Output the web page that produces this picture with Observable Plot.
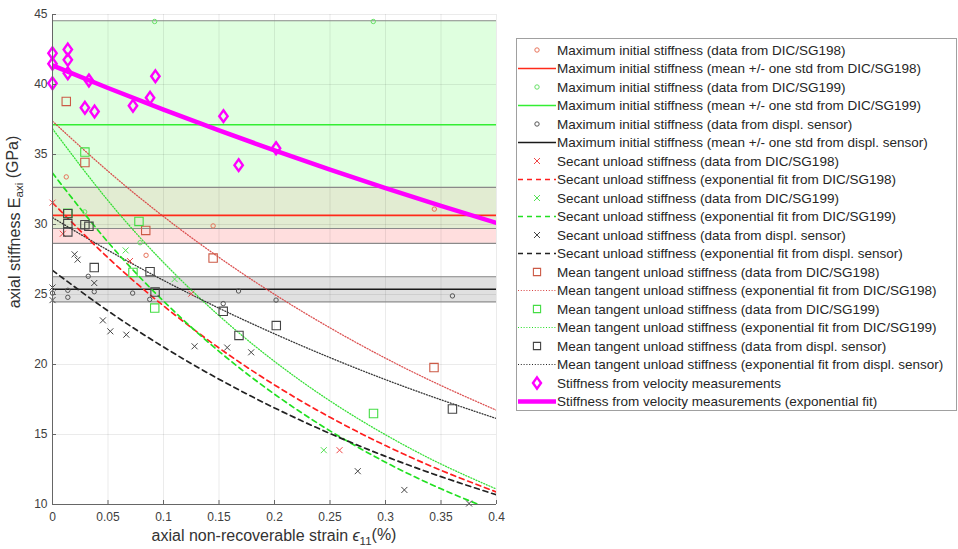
<!DOCTYPE html>
<html><head><meta charset="utf-8">
<script src="https://cdn.jsdelivr.net/npm/d3@7"></script>
<script src="https://cdn.jsdelivr.net/npm/@observablehq/plot@0.6"></script>
<style>
body{margin:0;background:#fff;}
#chart{position:relative;width:958px;height:549px;}
</style></head><body><div id="chart"></div>
<script>
// ---------- data ----------
const xDomain = [0, 0.4];
const yDomain = [10, 45];
const xTicks = [0, 0.05, 0.1, 0.15, 0.2, 0.25, 0.3, 0.35, 0.4];
const yTicks = [10, 15, 20, 25, 30, 35, 40, 45];

// exponential fits
const fitX = [0, 0.05, 0.1, 0.15, 0.2, 0.25, 0.3, 0.35, 0.4];
const fitSecant198 = [31.56, 27.63, 24.19, 21.18, 18.54, 16.23, 14.21, 12.44, 10.89];
const fitSecant199 = [33.67, 28.74, 24.53, 20.94, 17.88, 15.26, 13.02, 11.12, 9.49];
const fitSecantDispl = [26.72, 23.83, 21.25, 18.95, 16.90, 15.07, 13.44, 11.99, 10.69];
const fitTangent198 = [37.38, 33.81, 30.57, 27.65, 25.01, 22.62, 20.45, 18.50, 16.73];
const fitTangent199 = [36.84, 31.71, 27.29, 23.49, 20.22, 17.40, 14.98, 12.89, 11.10];
const fitTangentDispl = [30.49, 28.16, 26.01, 24.02, 22.19, 20.49, 18.92, 17.48, 16.14];
const fitVelocity = [41.36, 39.75, 38.20, 36.72, 35.29, 33.92, 32.60, 31.33, 30.11];

// mean +/- std of maximum initial stiffness
const bandNames = ["SG198", "SG199", "displ"];
const bandMean = [30.65, 37.13, 25.37];
const bandStd = [2.0, 7.42, 0.9];

// data points
const maxInit198X = [0.0124, 0.0843, 0.1447, 0.344];
const maxInit198Y = [33.4, 27.8, 29.9, 31.1];
const maxInit199X = [0.029, 0.0789, 0.092, 0.289];
const maxInit199Y = [30.9, 28.7, 44.5, 44.5];
const maxInitDisplX = [0, 0.0138, 0.0138, 0.0322, 0.0376, 0.0722, 0.0876, 0.1538, 0.1676, 0.2014, 0.3603];
const maxInitDisplY = [25.1, 25.3, 24.8, 26.3, 25.2, 25.1, 24.65, 24.35, 25.25, 24.6, 24.9];

const secant198X = [0, 0.0093, 0.0698, 0.125, 0.2586];
const secant198Y = [31.56, 29.34, 27.39, 25.06, 13.88];
const secant199X = [0.0659, 0.110, 0.2444];
const secant199Y = [28.15, 26.1, 13.88];
const secantDisplX = [0, 0, 0.0199, 0.0226, 0.0376, 0.0454, 0.0521, 0.0665, 0.128, 0.1574, 0.179, 0.275, 0.317, 0.3753];
const secantDisplY = [25.5, 24.6, 27.87, 27.49, 25.82, 23.15, 22.37, 22.13, 21.3, 21.21, 20.87, 12.38, 11.04, 10.07];

const tangent198X = [0.0124, 0.0292, 0.084, 0.1447, 0.3437];
const tangent198Y = [38.79, 34.43, 29.58, 27.6, 19.78];
const tangent199X = [0.0138, 0.0292, 0.0725, 0.0779, 0.0921, 0.2892];
const tangent199Y = [30.8, 35.17, 26.58, 30.22, 24.03, 16.5];
const tangentDisplX = [0.0138, 0.0138, 0.0138, 0.0292, 0.0328, 0.0376, 0.0879, 0.0924, 0.1538, 0.168, 0.2016, 0.3603];
const tangentDisplY = [30.77, 30.06, 29.47, 29.99, 29.87, 26.92, 26.63, 25.17, 23.8, 22.08, 22.78, 16.82];

const velocityX = [0, 0, 0, 0.0138, 0.0138, 0.0138, 0.0328, 0.0292, 0.0379, 0.0725, 0.0879, 0.0927, 0.154, 0.1677, 0.2014];
const velocityY = [42.23, 41.48, 40.09, 42.5, 41.76, 40.8, 40.29, 38.34, 38.07, 38.48, 39.05, 40.59, 37.74, 34.24, 35.45];

const legendLabels = [
  "Maximum initial stiffness (data from DIC/SG198)",
  "Maximum initial stiffness (mean +/- one std from DIC/SG198)",
  "Maximum initial stiffness (data from DIC/SG199)",
  "Maximum initial stiffness (mean +/- one std from DIC/SG199)",
  "Maximum initial stiffness (data from displ. sensor)",
  "Maximum initial stiffness (mean +/- one std from displ. sensor)",
  "Secant unload stiffness (data from DIC/SG198)",
  "Secant unload stiffness (exponential fit from DIC/SG198)",
  "Secant unload stiffness (data from DIC/SG199)",
  "Secant unload stiffness (exponential fit from DIC/SG199)",
  "Secant unload stiffness (data from displ. sensor)",
  "Secant unload stiffness (exponential fit from displ. sensor)",
  "Mean tangent unload stiffness (data from DIC/SG198)",
  "Mean tangent unload stiffness (exponential fit from DIC/SG198)",
  "Mean tangent unload stiffness (data from DIC/SG199)",
  "Mean tangent unload stiffness (exponential fit from DIC/SG199)",
  "Mean tangent unload stiffness (data from displ. sensor)",
  "Mean tangent unload stiffness (exponential fit from displ. sensor)",
  "Stiffness from velocity measurements",
  "Stiffness from velocity measurements (exponential fit)"
];

// ---------- styles ----------
const RED = {dot: "#e8735a", mean: "#ff2a1a", x: "#f04848", dash: "#ff1f1f", sq: "#cc5a46", dotted: "#d84040", band: "#ff0000"};
const GRN = {dot: "#66e066", mean: "#33ee33", x: "#55e055", dash: "#22e022", sq: "#44dd44", dotted: "#22dd22", band: "#00ff00"};
const BLK = {dot: "#555555", mean: "#1a1a1a", x: "#444444", dash: "#222222", sq: "#444444", dotted: "#222222", band: "#000000"};
const MAG = "#ff00ff";
const OVERLAP = "#e2ecd2";
const FONT = "'Liberation Sans', Arial, Helvetica, sans-serif";

const sqSym = {draw(ctx, size) {const r = Math.sqrt(size / Math.PI); ctx.moveTo(-r, -r); ctx.lineTo(r, -r); ctx.lineTo(r, r); ctx.lineTo(-r, r); ctx.closePath();}};
const xSym = {draw(ctx, size) {const r = Math.sqrt(size / Math.PI); ctx.moveTo(-r, -r); ctx.lineTo(r, r); ctx.moveTo(r, -r); ctx.lineTo(-r, r);}};
const oSym = {draw(ctx, size) {const r = Math.sqrt(size / Math.PI); ctx.moveTo(r, 0); ctx.arc(0, 0, r, 0, 2 * Math.PI);}};
const dSym = {draw(ctx, size) {const r = Math.sqrt(size / Math.PI); ctx.moveTo(0, -r * 1.4); ctx.lineTo(r, 0); ctx.lineTo(0, r * 1.4); ctx.lineTo(-r, 0); ctx.closePath();}};

const pts = (xs, ys) => xs.map((x, i) => ({x, y: ys[i]}));
const bands = bandNames.map((n, i) => ({name: n, mean: bandMean[i], lo: bandMean[i] - bandStd[i], hi: bandMean[i] + bandStd[i], x1: xDomain[0], x2: xDomain[1]}));
const overlap = [{x1: xDomain[0], x2: xDomain[1], lo: Math.max(bands[0].lo, bands[1].lo), hi: Math.min(bands[0].hi, bands[1].hi)}];
const bandFill = {SG198: RED.band, SG199: GRN.band, displ: BLK.band};
const bandOpacity = {SG198: 0.13, SG199: 0.125, displ: 0.12};
const bandLine = {SG198: RED.mean, SG199: GRN.mean, displ: BLK.mean};
const bandEdges = bands.flatMap(b => [b.lo, b.hi]);

const fitLine = (ys, stroke, dash, w, op = 1) => Plot.line(pts(fitX, ys), {x: "x", y: "y", stroke, strokeDasharray: dash, strokeWidth: w, strokeOpacity: op, curve: "natural", clip: true});
const dots = (xs, ys, symbol, r, stroke, w = 1) => Plot.dot(pts(xs, ys), {x: "x", y: "y", symbol, r, stroke, fill: "none", strokeWidth: w});

const DASH = "5,4", DOT = "1,1.8";

const chart = Plot.plot({
  width: 958, height: 549,
  marginLeft: 52, marginRight: 462, marginTop: 14, marginBottom: 45,
  style: {fontFamily: FONT, fontSize: "12px", color: "#404040", background: "#fff"},
  x: {domain: xDomain},
  y: {domain: yDomain},
  marks: [
    Plot.rect(bands, {x1: "x1", x2: "x2", y1: "lo", y2: "hi", fill: d => bandFill[d.name], fillOpacity: d => bandOpacity[d.name]}),
    Plot.rect(overlap, {x1: "x1", x2: "x2", y1: "lo", y2: "hi", fill: OVERLAP}),
    Plot.gridX(xTicks, {stroke: "#000", strokeOpacity: 0.08}),
    Plot.gridY(yTicks, {stroke: "#000", strokeOpacity: 0.08}),
    Plot.ruleY(bandEdges, {stroke: "#8a8a8a", strokeWidth: 1.1}),
    Plot.ruleY(bands, {y: "mean", stroke: d => bandLine[d.name], strokeWidth: 1.6}),
    fitLine(fitTangent198, RED.dotted, DOT, 1.3, 0.9),
    fitLine(fitTangent199, GRN.dotted, DOT, 1.3, 0.9),
    fitLine(fitTangentDispl, BLK.dotted, DOT, 1.3, 0.9),
    fitLine(fitSecant198, RED.dash, DASH, 1.7),
    fitLine(fitSecant199, GRN.dash, DASH, 1.7),
    fitLine(fitSecantDispl, BLK.dash, DASH, 1.7),
    dots(maxInit198X, maxInit198Y, oSym, 2.2, RED.dot),
    dots(maxInit199X, maxInit199Y, oSym, 2.2, GRN.dot),
    dots(maxInitDisplX, maxInitDisplY, oSym, 2.2, BLK.dot),
    dots(secant198X, secant198Y, xSym, 3, RED.x),
    dots(secant199X, secant199Y, xSym, 3, GRN.x),
    dots(secantDisplX, secantDisplY, xSym, 3, BLK.x),
    dots(tangent198X, tangent198Y, sqSym, 4.2, RED.sq, 1.1),
    dots(tangent199X, tangent199Y, sqSym, 4.2, GRN.sq, 1.1),
    dots(tangentDisplX, tangentDisplY, sqSym, 4.2, BLK.sq, 1.1),
    fitLine(fitVelocity, MAG, null, 4.5),
    dots(velocityX, velocityY, dSym, 4.2, MAG, 2.4),
    Plot.ruleX([xDomain[0]], {stroke: "#666"}),
    Plot.ruleY([yDomain[0]], {stroke: "#666"}),
    Plot.axisX(xTicks, {tickFormat: d => String(d), tickSize: -4, tickPadding: 12, label: null, stroke: "#666"}),
    Plot.axisY(yTicks, {tickSize: -4, tickPadding: 9, label: null, stroke: "#666"})
  ]
});

document.getElementById("chart").appendChild(chart);
const svg = d3.select(chart);

// axis labels
const yl = svg.append("text").attr("transform", "translate(19.5,222) rotate(-90)")
  .attr("text-anchor", "middle").attr("font-size", 16).attr("fill", "#333").attr("font-family", FONT);
yl.append("tspan").text("axial stiffness E");
yl.append("tspan").attr("font-size", 11.5).attr("dy", "0.32em").text("axi");
yl.append("tspan").attr("dy", "-0.32em").text(" (GPa)");

const xl = svg.append("text").attr("transform", "translate(274,541)")
  .attr("text-anchor", "middle").attr("font-size", 16).attr("fill", "#333").attr("font-family", FONT);
xl.append("tspan").text("axial non-recoverable strain ");
xl.append("tspan").attr("font-style", "italic").text("\u03F5");
xl.append("tspan").attr("font-size", 11.5).attr("dy", "0.32em").text("11");
xl.append("tspan").attr("dy", "-0.32em").text("(%)");

// legend
const legendStyles = [
  {s: oSym, r: 2.2, c: RED.dot}, {line: RED.mean, w: 1.6},
  {s: oSym, r: 2.2, c: GRN.dot}, {line: GRN.mean, w: 1.6},
  {s: oSym, r: 2.2, c: BLK.dot}, {line: BLK.mean, w: 1.6},
  {s: xSym, r: 3, c: RED.x}, {line: RED.dash, w: 1.7, dash: DASH},
  {s: xSym, r: 3, c: GRN.x}, {line: GRN.dash, w: 1.7, dash: DASH},
  {s: xSym, r: 3, c: BLK.x}, {line: BLK.dash, w: 1.7, dash: DASH},
  {s: sqSym, r: 3.6, c: RED.sq, w: 1.1}, {line: RED.dotted, w: 1.2, dash: DOT},
  {s: sqSym, r: 3.6, c: GRN.sq, w: 1.1}, {line: GRN.dotted, w: 1.2, dash: DOT},
  {s: sqSym, r: 3.6, c: BLK.sq, w: 1.1}, {line: BLK.dotted, w: 1.2, dash: DOT},
  {s: dSym, r: 4, c: MAG, w: 2.4}, {line: MAG, w: 4.5}
];
const lg = svg.append("g").attr("font-family", FONT).attr("font-size", 13.5).attr("text-anchor", "start");
lg.append("rect").attr("x", 516.5).attr("y", 38.5).attr("width", 440).attr("height", 372)
  .attr("fill", "#fff").attr("stroke", "#a0a0a0");
legendLabels.forEach((label, i) => {
  const cy = 50 + i * 18.5;
  const st = legendStyles[i];
  if (st.line) {
    lg.append("line").attr("x1", 518).attr("x2", 556).attr("y1", cy).attr("y2", cy)
      .attr("stroke", st.line).attr("stroke-width", st.w).attr("stroke-dasharray", st.dash || null);
  } else {
    lg.append("path").attr("d", d3.symbol(st.s, Math.PI * st.r * st.r)())
      .attr("transform", `translate(537,${cy})`).attr("fill", "none")
      .attr("stroke", st.c).attr("stroke-width", st.w || 1);
  }
  lg.append("text").attr("x", 557).attr("y", cy).attr("dy", "0.36em").attr("text-anchor", "start")
    .attr("fill", "#262626").text(label);
});
</script></body></html>
